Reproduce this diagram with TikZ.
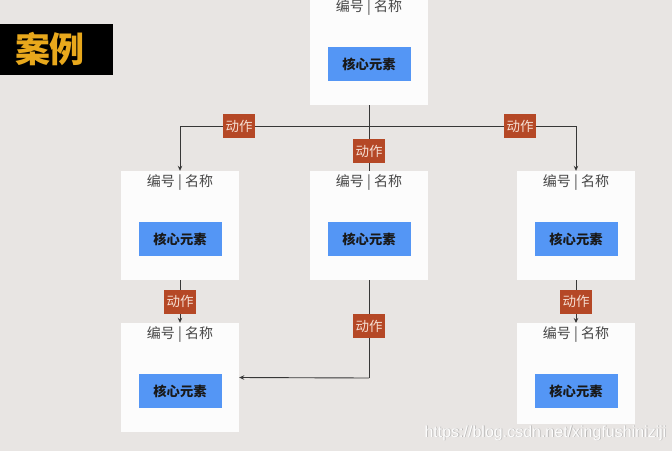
\documentclass[tikz,border=0pt]{standalone}
\usepackage{fontspec}
\newfontfamily\cjk{Noto Sans CJK SC}
\newfontfamily\wmfont{Liberation Sans}
\usetikzlibrary{arrows.meta}
\definecolor{bg}{RGB}{232,229,227}
\definecolor{cardwhite}{RGB}{252,252,252}
\definecolor{coreblue}{RGB}{84,150,245}
\definecolor{actbrown}{RGB}{181,72,38}
\definecolor{actfg}{RGB}{245,222,210}
\definecolor{titlegold}{RGB}{232,168,28}
\definecolor{linegray}{RGB}{55,55,55}
\definecolor{headgray}{RGB}{70,70,70}
\tikzset{
  card/.style={fill=cardwhite, draw=none, minimum width=118pt, minimum height=109pt, inner sep=0pt},
  head/.style={font=\cjk\fontsize{14}{16}\selectfont, text=headgray, inner sep=0pt},
  core/.style={fill=coreblue, draw=none, minimum width=83pt, minimum height=34pt, inner sep=0pt,
               font=\cjk\bfseries\fontsize{13.3}{15}\selectfont, text=black!90},
  act/.style={fill=actbrown, draw=none, minimum width=32pt, minimum height=24pt, inner sep=0pt,
              font=\cjk\fontsize{13.5}{15}\selectfont, text=actfg},
  conn/.style={draw=linegray, line width=0.9pt},
  arr/.style={conn, -{Stealth[length=5pt,width=4.5pt]}},
}
\begin{document}
\begin{tikzpicture}[x=1pt,y=-1pt]
\fill[bg] (0,0) rectangle (672,451);
\useasboundingbox (0,0) rectangle (672,451);

% title
\node[fill=black, minimum width=113pt, minimum height=51pt, inner sep=0pt, anchor=north west] (title) at (0,24) {};
\node[font=\cjk\bfseries\fontsize{35}{38}\selectfont, text=titlegold, inner sep=0pt] (titletext) at (50,49.5) {案例};

% cards
\node[card] (top) at (369,50.5) {};
\node[card] (c1) at (180,225.5) {};
\node[card] (c2) at (369,225.5) {};
\node[card] (c3) at (576,225.5) {};
\node[card] (b1) at (180,377.5) {};
\node[card, minimum height=101pt, anchor=north] (b3) at (576,323) {};

% headers and core boxes
\foreach \n/\x/\t in {top/369/-4, c1/180/171, c2/369/171, c3/576/171, b1/180/323, b3/576/323}{
  \node[head] (\n-h) at (\x,\t+12) {编号 | 名称};
  \node[core] (\n-c) at (\x,\t+68) {核心元素};
}

% connectors
\coordinate (j) at (369,126);
\coordinate (jl) at (180,126);
\coordinate (jr) at (576,126);
\coordinate (m) at (369,378);
\draw[conn] (top.south) -- (j);
\draw[conn] (jl) -- (jr);
\draw[arr] (jl) -- (c1.north);
\draw[arr] (jr) -- (c3.north);
\draw[conn] (j) -- (c2.north);
\draw[arr] (c1.south) -- (b1.north);
\draw[arr] (c3.south) -- (b3.north);
\draw[conn] (c2.south) -- (m);
\draw[arr] (m) -- (b1.east);

% action labels
\node[act] (a1) at (239,126) {动作};
\node[act] (a2) at (520,126) {动作};
\node[act] (a3) at (369,151) {动作};
\node[act] (a4) at (180,301.5) {动作};
\node[act] (a5) at (576,301.5) {动作};
\node[act] (a6) at (369,326) {动作};

% watermark
\node[font=\wmfont\fontsize{16}{18}\selectfont, text=black!40, opacity=0.6, anchor=west] (wms) at (421.8,433.8) {https://blog.csdn.net/xingfushiniziji};
\node[font=\wmfont\fontsize{16}{18}\selectfont, text=white, opacity=0.95, anchor=west] (wm) at (421,433) {https://blog.csdn.net/xingfushiniziji};
\end{tikzpicture}
\end{document}
